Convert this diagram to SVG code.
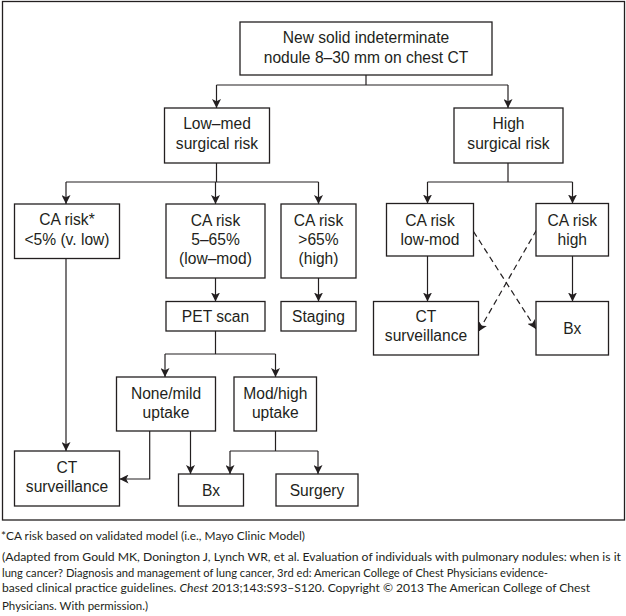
<svg xmlns="http://www.w3.org/2000/svg" width="626" height="616" viewBox="0 0 626 616">
<style>
.box{fill:#fff;stroke:#231f20;stroke-width:1.3}
.t{font-family:"Liberation Sans",Arial,sans-serif;font-size:15.6px;fill:#231f20;text-anchor:middle}
.c{fill:none;stroke:#231f20;stroke-width:1.2}
.a{marker-end:url(#ah)}
.d{stroke-dasharray:6 4}
.fn{font-family:Lato,"Open Sans",sans-serif;font-size:12px;fill:#231f20}
</style>
<defs>
<marker id="ah" viewBox="0 0 10 10" refX="10" refY="5" markerWidth="9" markerHeight="9" markerUnits="userSpaceOnUse" orient="auto">
<path d="M0,0 L10,5 L0,10 L2.5,5 Z" fill="#231f20"/>
</marker>
</defs>
<rect x="2.5" y="1.5" width="622" height="518.5" fill="#fff" stroke="#231f20" stroke-width="1.3"/>
<g id="connectors">
<path class="c" d="M366 75 V85 M216.5 85 H508"/>
<path class="c a" d="M216.5 85 V108"/>
<path class="c a" d="M508 85 V108"/>
<path class="c" d="M216.5 163 V182 M66 182 H318.5"/>
<path class="c a" d="M66 182 V204"/>
<path class="c a" d="M215.5 182 V204"/>
<path class="c a" d="M318.5 182 V204"/>
<path class="c" d="M508 163 V182 M427.5 182 H572.5"/>
<path class="c a" d="M427.5 182 V203.5"/>
<path class="c a" d="M572.5 182 V203.5"/>
<path class="c a" d="M215.5 278 V301.5"/>
<path class="c a" d="M318.5 278 V301.5"/>
<path class="c a" d="M427.5 256 V301.5"/>
<path class="c a" d="M572.5 256 V301.5"/>
<path class="c d a" d="M473.5 231.5 L536 329"/>
<path class="c d a" d="M536.5 230 L478.5 331.5"/>
<path class="c" d="M215.5 331 V354 M165 354 H275.5"/>
<path class="c a" d="M165 354 V377"/>
<path class="c a" d="M275.5 354 V377"/>
<path class="c a" d="M66 258.5 V451"/>
<path class="c a" d="M149.7 431 V479 H119.5"/>
<path class="c a" d="M190.5 431 V474"/>
<path class="c" d="M275.5 431 V451 M230 451 H318"/>
<path class="c a" d="M230 451 V474"/>
<path class="c a" d="M318 451 V474"/>
</g>
<g id="n-top"><rect class="box" x="240" y="22" width="252" height="53"/><text class="t" x="366" y="43">New solid indeterminate</text><text class="t" x="366" y="63">nodule 8–30 mm on chest CT</text></g>
<g id="n-lowmed"><rect class="box" x="164.5" y="108" width="105" height="55"/><text class="t" x="217" y="128.5">Low–med</text><text class="t" x="217" y="148.5">surgical risk</text></g>
<g id="n-high"><rect class="box" x="454" y="108" width="109" height="55"/><text class="t" x="508.5" y="128.5">High</text><text class="t" x="508.5" y="148.5">surgical risk</text></g>
<g id="n-ca1"><rect class="box" x="14.5" y="204" width="105" height="54.5"/><text class="t" x="67" y="225">CA risk*</text><text class="t" x="67" y="245">&lt;5% (v. low)</text></g>
<g id="n-ca2"><rect class="box" x="166" y="204" width="99" height="74"/><text class="t" x="215.5" y="225.5">CA risk</text><text class="t" x="215.5" y="245">5–65%</text><text class="t" x="215.5" y="264">(low–mod)</text></g>
<g id="n-ca3"><rect class="box" x="281" y="204" width="75" height="74"/><text class="t" x="318.5" y="225.5">CA risk</text><text class="t" x="318.5" y="245">&gt;65%</text><text class="t" x="318.5" y="264">(high)</text></g>
<g id="n-calm"><rect class="box" x="386.5" y="203.5" width="87" height="52.5"/><text class="t" x="430" y="225.5">CA risk</text><text class="t" x="430" y="244.5">low-mod</text></g>
<g id="n-cah"><rect class="box" x="536" y="203.5" width="72.5" height="52.5"/><text class="t" x="572.3" y="225.5">CA risk</text><text class="t" x="572.3" y="244.5">high</text></g>
<g id="n-pet"><rect class="box" x="166" y="301.5" width="99" height="29.5"/><text class="t" x="215.5" y="322">PET scan</text></g>
<g id="n-staging"><rect class="box" x="281" y="301.5" width="75" height="29.5"/><text class="t" x="318.5" y="322">Staging</text></g>
<g id="n-ctsR"><rect class="box" x="373.5" y="301.5" width="105" height="53.5"/><text class="t" x="426" y="322">CT</text><text class="t" x="426" y="341">surveillance</text></g>
<g id="n-bxR"><rect class="box" x="536" y="301.5" width="72.5" height="53.5"/><text class="t" x="572.3" y="333.5">Bx</text></g>
<g id="n-none"><rect class="box" x="116.5" y="377" width="99" height="54"/><text class="t" x="166" y="398.5">None/mild</text><text class="t" x="166" y="418">uptake</text></g>
<g id="n-modh"><rect class="box" x="234" y="377" width="82.5" height="54"/><text class="t" x="275.3" y="398.5">Mod/high</text><text class="t" x="275.3" y="418">uptake</text></g>
<g id="n-ctsL"><rect class="box" x="14.5" y="451" width="105" height="55"/><text class="t" x="67" y="472.5">CT</text><text class="t" x="67" y="492">surveillance</text></g>
<g id="n-bxL"><rect class="box" x="178.5" y="474" width="65" height="32"/><text class="t" x="211" y="495.5">Bx</text></g>
<g id="n-surgery"><rect class="box" x="276" y="474" width="82" height="32"/><text class="t" x="317" y="495.5">Surgery</text></g>
<g id="footnotes">
<text class="fn" x="1" y="540" textLength="304" lengthAdjust="spacingAndGlyphs">*CA risk based on validated model (i.e., Mayo Clinic Model)</text>
<text class="fn" x="2" y="561" textLength="619" lengthAdjust="spacingAndGlyphs">(Adapted from Gould MK, Donington J, Lynch WR, et al. Evaluation of individuals with pulmonary nodules: when is it</text>
<text class="fn" x="2" y="576.5" textLength="546" lengthAdjust="spacingAndGlyphs">lung cancer? Diagnosis and management of lung cancer, 3rd ed:  American College of Chest Physicians evidence-</text>
<text class="fn" x="2" y="591.5" textLength="588" lengthAdjust="spacingAndGlyphs">based clinical practice guidelines. <tspan font-style="italic">Chest</tspan> 2013;143:S93–S120. Copyright © 2013 The American College of Chest</text>
<text class="fn" x="2" y="610" textLength="146" lengthAdjust="spacingAndGlyphs">Physicians. With permission.)</text>
</g>
</svg>
